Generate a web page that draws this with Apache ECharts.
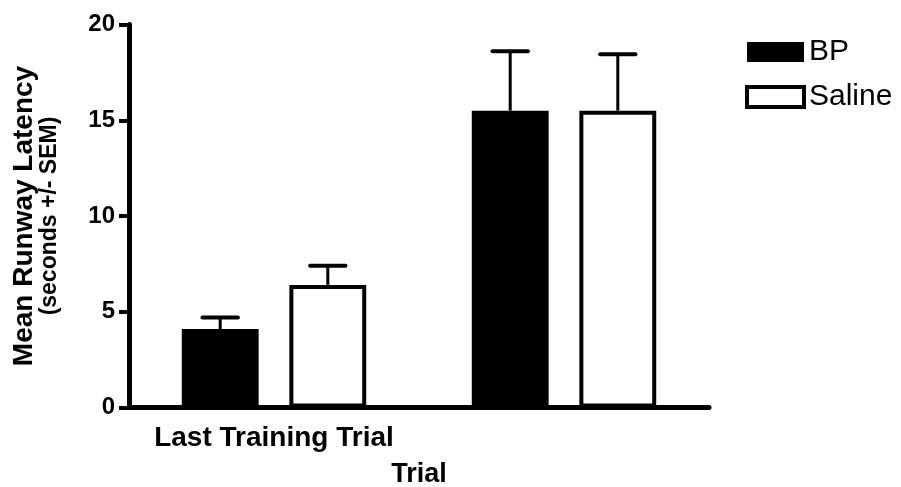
<!DOCTYPE html>
<html>
<head>
<meta charset="utf-8">
<script src="https://cdn.jsdelivr.net/npm/echarts@6/dist/echarts.min.js"></script>
<style>html,body{margin:0;padding:0;background:#fff;}#c{width:901px;height:487px;}</style>
</head>
<body>
<div id="c"></div>
<script>
const categories = ['Last Training Trial', 'Probe Trial'];
const seriesNames = ['BP', 'Saline'];
const bpValues = [4.1, 15.5];
const bpErrors = [0.6, 3.1];
const salineValues = [6.4, 15.5];
const salineErrors = [1.0, 2.95];
const yTicks = [0, 5, 10, 15, 20];

const FONT = '"Liberation Sans", Arial, Helvetica, sans-serif';
const BAR_FRAC = 0.265;
const GAP_FRAC = 0.40;

function errSeries(name, values, errors, sign) {
  return {
    type: 'custom',
    name: name + ' SEM',
    z: 3,
    silent: true,
    data: values.map((v, i) => [i, v, errors[i]]),
    renderItem: function (params, api) {
      const idx = api.value(0), v = api.value(1), e = api.value(2);
      const band = api.size([1, 0])[0];
      const w = band * BAR_FRAC;
      const off = sign * (w / 2 + w * GAP_FRAC / 2);
      const base = api.coord([idx, v]);
      const top = api.coord([idx, v + e]);
      const cx = base[0] + off;
      const half = w * 0.23;
      return {
        type: 'group',
        children: [
          { type: 'line', shape: { x1: cx, y1: base[1], x2: cx, y2: top[1] },
            style: { stroke: '#000', lineWidth: 3 } },
          { type: 'line', shape: { x1: cx - half, y1: top[1], x2: cx + half, y2: top[1] },
            style: { stroke: '#000', lineWidth: 4, lineCap: 'round' } }
        ]
      };
    }
  };
}

const chart = echarts.init(document.getElementById('c'), null, { renderer: 'canvas' });
chart.setOption({
  animation: false,
  backgroundColor: '#fff',
  textStyle: { fontFamily: FONT, color: '#000' },
  grid: { left: 129, right: 192, top: 24.5, bottom: 79.5, containLabel: false, outerBoundsMode: 'none' },
  legend: {
    orient: 'vertical', left: 740, top: 32,
    itemWidth: 57, itemHeight: 20, itemGap: 15,
    icon: 'rect',
    textStyle: { fontSize: 30, fontFamily: FONT, color: '#000' },
    data: [
      { name: seriesNames[0], itemStyle: { color: '#000', borderColor: '#000', borderWidth: 0 } },
      { name: seriesNames[1], itemStyle: { color: '#fff', borderColor: '#000', borderWidth: 4 } }
    ]
  },
  xAxis: {
    type: 'category',
    data: categories,
    boundaryGap: true,
    name: 'Trial',
    nameLocation: 'middle',
    nameGap: 54,
    nameTextStyle: { fontSize: 27, fontWeight: 'bold', fontFamily: FONT, color: '#000' },
    axisLine: { lineStyle: { color: '#000', width: 5 } },
    axisTick: { show: false },
    axisLabel: { fontSize: 28, fontWeight: 'bold', fontFamily: FONT, color: '#000', margin: 17 },
    splitLine: { show: false }
  },
  yAxis: {
    type: 'value',
    min: yTicks[0], max: yTicks[yTicks.length - 1], interval: 5,
    name: '{a|Mean Runway Latency}\n{b|(seconds +/- SEM)}',
    nameLocation: 'middle',
    nameRotate: 90,
    nameGap: 67,
    nameTextStyle: {
      color: '#000', align: 'center',
      rich: {
        a: { fontSize: 28, fontWeight: 'bold', fontFamily: FONT, color: '#000', lineHeight: 28, align: 'center' },
        b: { fontSize: 23, fontWeight: 'bold', fontFamily: FONT, color: '#000', lineHeight: 24, align: 'center' }
      }
    },
    axisLine: { show: true, lineStyle: { color: '#000', width: 5 } },
    axisTick: { show: true, length: 10, lineStyle: { color: '#000', width: 4 } },
    axisLabel: { fontSize: 24, fontWeight: 'bold', fontFamily: FONT, color: '#000', margin: 14 },
    splitLine: { show: false }
  },
  series: [
    {
      type: 'bar', name: seriesNames[0], data: bpValues,
      barWidth: (BAR_FRAC * 100) + '%', barGap: (GAP_FRAC * 100) + '%',
      itemStyle: { color: '#000', borderColor: '#000', borderWidth: 4 }
    },
    {
      type: 'bar', name: seriesNames[1], data: salineValues,
      barWidth: (BAR_FRAC * 100) + '%', barGap: (GAP_FRAC * 100) + '%',
      itemStyle: { color: '#fff', borderColor: '#000', borderWidth: 4 }
    },
    errSeries(seriesNames[0], bpValues, bpErrors, -1),
    errSeries(seriesNames[1], salineValues, salineErrors, 1)
  ]
});
</script>
</body>
</html>
